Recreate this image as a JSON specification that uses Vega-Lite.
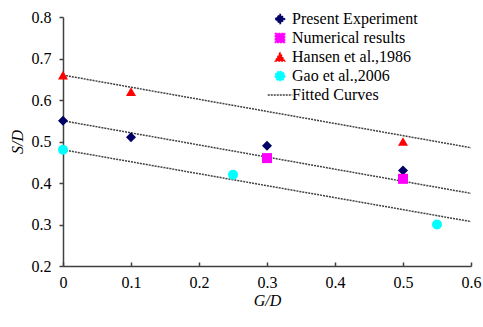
{
  "$schema": "https://vega.github.io/schema/vega-lite/v6.json",
  "width": 408,
  "height": 249,
  "autosize": {"type": "none"},
  "padding": {"left": 63, "top": 17, "right": 12, "bottom": 61},
  "background": "white",
  "config": {
    "view": {"stroke": null},
    "font": "Liberation Serif",
    "axis": {
      "grid": false,
      "domainColor": "#404040",
      "domainWidth": 1.5,
      "tickColor": "#404040",
      "tickWidth": 1.5,
      "labelFont": "Liberation Serif",
      "labelFontSize": 16,
      "labelColor": "#000",
      "titleFont": "Liberation Serif",
      "titleFontSize": 16,
      "titleFontStyle": "italic",
      "titleFontWeight": "normal",
      "titleColor": "#000"
    }
  },
  "datasets": {
    "points": [
      {"series": "Present Experiment", "gd": 0, "sd": 0.55},
      {"series": "Present Experiment", "gd": 0.1, "sd": 0.51},
      {"series": "Present Experiment", "gd": 0.3, "sd": 0.49},
      {"series": "Present Experiment", "gd": 0.5, "sd": 0.43},
      {"series": "Numerical results", "gd": 0.3, "sd": 0.46},
      {"series": "Numerical results", "gd": 0.5, "sd": 0.41},
      {"series": "Hansen et al.,1986", "gd": 0, "sd": 0.66},
      {"series": "Hansen et al.,1986", "gd": 0.1, "sd": 0.62},
      {"series": "Hansen et al.,1986", "gd": 0.5, "sd": 0.50},
      {"series": "Gao et al.,2006", "gd": 0, "sd": 0.48},
      {"series": "Gao et al.,2006", "gd": 0.25, "sd": 0.42},
      {"series": "Gao et al.,2006", "gd": 0.55, "sd": 0.30}
    ],
    "curves": [
      {"series": "Fitted Curves", "curve": "A", "gd": 0, "sd": 0.66},
      {"series": "Fitted Curves", "curve": "A", "gd": 0.6, "sd": 0.485},
      {"series": "Fitted Curves", "curve": "B", "gd": 0, "sd": 0.55},
      {"series": "Fitted Curves", "curve": "B", "gd": 0.6, "sd": 0.375},
      {"series": "Fitted Curves", "curve": "C", "gd": 0, "sd": 0.48},
      {"series": "Fitted Curves", "curve": "C", "gd": 0.6, "sd": 0.307}
    ]
  },
  "encoding": {
    "x": {
      "field": "gd", "type": "quantitative",
      "scale": {"domain": [0, 0.6], "nice": false, "zero": false},
      "axis": {"title": "G/D", "values": [0, 0.1, 0.2, 0.3, 0.4, 0.5, 0.6], "format": "~g", "tickSize": -4, "labelPadding": 12, "titlePadding": 2, "labelFlush": false, "labelFont": "Liberation Serif", "titleFont": "Liberation Serif"}
    },
    "y": {
      "field": "sd", "type": "quantitative",
      "scale": {"domain": [0.2, 0.8], "nice": false, "zero": false},
      "axis": {"title": "S/D", "values": [0.2, 0.3, 0.4, 0.5, 0.6, 0.7, 0.8], "format": ".1f", "tickSize": 4, "labelPadding": 8, "titlePadding": 6, "labelFont": "Liberation Serif", "titleFont": "Liberation Serif"}
    }
  },
  "layer": [
    {
      "data": {"name": "curves"},
      "mark": {"type": "line", "strokeWidth": 1.5, "strokeDash": [2, 1]},
      "encoding": {
        "detail": {"field": "curve"},
        "color": {"field": "series", "type": "nominal", "title": null, "scale": {"domain": ["Present Experiment", "Numerical results", "Hansen et al.,1986", "Gao et al.,2006", "Fitted Curves"], "range": ["#000066", "#ff00ff", "#ff0000", "#00ffff", "#404040"]}}
      }
    },
    {
      "data": {"name": "points"},
      "mark": {"type": "point", "filled": true, "opacity": 1, "size": 100},
      "encoding": {
        "color": {"field": "series", "type": "nominal", "title": null, "scale": {"domain": ["Present Experiment", "Numerical results", "Hansen et al.,1986", "Gao et al.,2006", "Fitted Curves"], "range": ["#000066", "#ff00ff", "#ff0000", "#00ffff", "#404040"]},
          "legend": {
            "orient": "none", "legendX": 209, "legendY": -6,
            "labelFont": "Liberation Serif", "labelFontSize": 16, "labelColor": "#000",
            "rowPadding": 3, "labelOffset": 4, "symbolOpacity": 1,
            "encode": {
              "symbols": {"update": {
                "stroke": {"signal": "datum.value === 'Fitted Curves' ? '#404040' : 'transparent'"},
                "strokeDash": {"value": [2, 1]},
                "strokeWidth": {"value": 1.5},
                "size": {"signal": "datum.value === 'Fitted Curves' ? 600 : 85"}
              }}
            }
          }
        },
        "shape": {"field": "series", "type": "nominal", "title": null, "scale": {"domain": ["Present Experiment", "Numerical results", "Hansen et al.,1986", "Gao et al.,2006", "Fitted Curves"], "range": ["diamond", "square", "triangle-up", "circle", "stroke"]}}
      }
    }
  ]
}
